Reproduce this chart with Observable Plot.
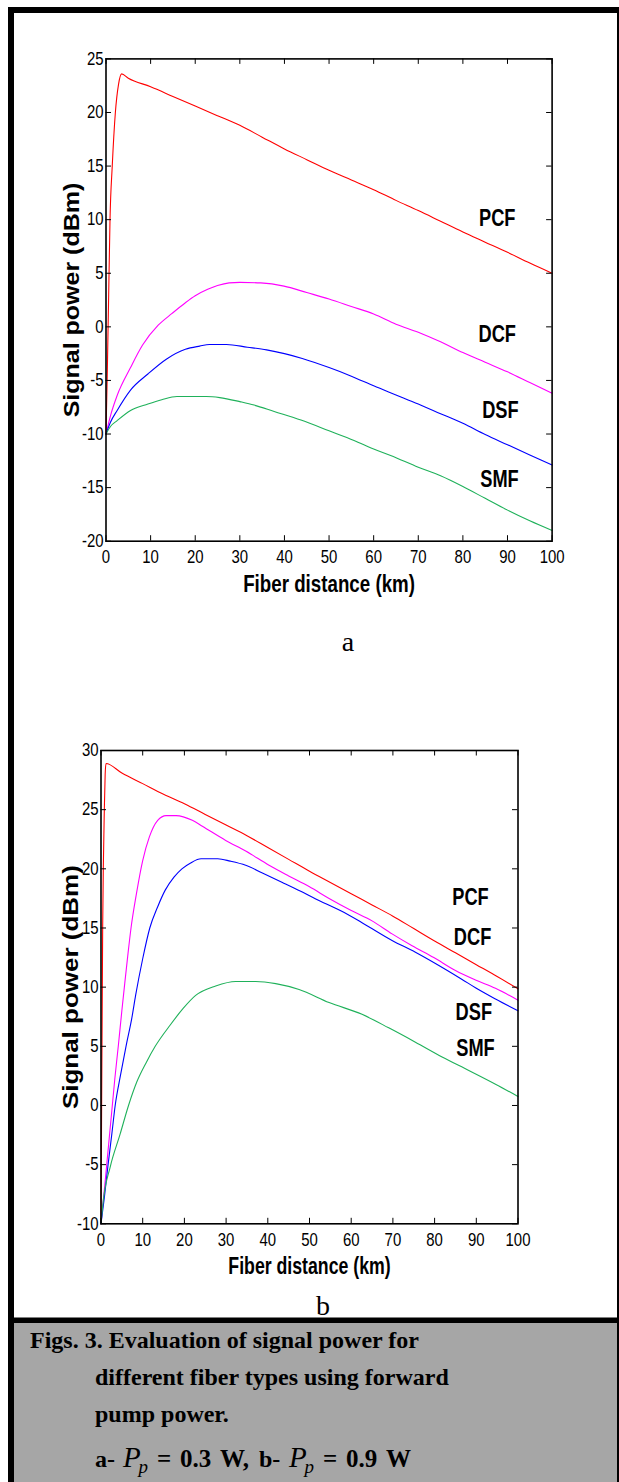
<!DOCTYPE html>
<html><head><meta charset="utf-8">
<script src="https://cdn.jsdelivr.net/npm/d3@7"></script>
<script src="https://cdn.jsdelivr.net/npm/@observablehq/plot@0.6"></script>
<style>
html,body{margin:0;padding:0;background:#fff;}
body{width:619px;height:1482px;overflow:hidden;position:relative;}
.chart{position:absolute;left:0;}
#overlay{position:absolute;left:0;top:0;pointer-events:none;}
</style></head><body>
<div id="chartA" class="chart" style="top:0px"></div>
<div id="chartB" class="chart" style="top:690px"></div>
<svg id="overlay" width="619" height="1482"></svg>
<script>
// ---------- data ----------
const fiberTypes = ["PCF", "DCF", "DSF", "SMF"];
const fiberColors = ["#ff0000", "#ff00ff", "#0000ff", "#1fb15a"];
const xTicks = [0, 10, 20, 30, 40, 50, 60, 70, 80, 90, 100];
const yTicksA = [-20, -15, -10, -5, 0, 5, 10, 15, 20, 25];
const yTicksB = [-10, -5, 0, 5, 10, 15, 20, 25, 30];
const xTitle = "Fiber distance (km)";
const yTitle = "Signal power (dBm)";

// Chart a (Pp = 0.3 W)
const aPcfKm  = [0, 0.3, 0.6, 0.9, 1.4, 2.1, 2.8, 3.5, 5, 10, 15, 20, 25, 30, 35, 40, 45, 50, 55, 60, 65, 70, 75, 80, 85, 90, 95, 100];
const aPcfDbm = [-10, -4, 3, 10, 15, 20, 22.6, 23.6, 23.2, 22.4, 21.5, 20.6, 19.7, 18.8, 17.7, 16.6, 15.6, 14.6, 13.7, 12.8, 11.8, 10.85, 9.85, 8.85, 7.9, 6.95, 5.95, 5.0];
const aDcfKm  = [0, 1, 2.5, 5.5, 8.2, 11.7, 14.8, 17.8, 20, 22.8, 25, 27.6, 30, 34.7, 39.9, 45, 50, 55, 60, 65, 70, 75, 80, 85, 90, 95, 100];
const aDcfDbm = [-10, -8.3, -6.4, -3.8, -1.7, 0.15, 1.25, 2.25, 2.9, 3.5, 3.85, 4.1, 4.15, 4.1, 3.8, 3.2, 2.6, 1.9, 1.2, 0.25, -0.5, -1.4, -2.4, -3.3, -4.2, -5.2, -6.2];
const aDsfKm  = [0, 1, 2.5, 5.5, 9.4, 13.6, 17.8, 21, 23.2, 27, 31.7, 36, 40, 44, 50, 55, 60, 65, 70, 75, 80, 85, 90, 95, 100];
const aDsfDbm = [-10, -8.9, -7.8, -5.9, -4.4, -3.0, -2.1, -1.8, -1.65, -1.65, -1.9, -2.15, -2.5, -2.95, -3.8, -4.6, -5.5, -6.35, -7.2, -8.1, -9.0, -10.05, -11.0, -11.95, -12.9];
const aSmfKm  = [0, 1, 2.5, 5.5, 9.4, 12.5, 15.9, 22.5, 25.5, 30.2, 33.2, 37.7, 43.7, 50, 55.6, 60, 63.8, 70, 75, 80, 85, 90, 95, 100];
const aSmfDbm = [-10, -9.3, -8.75, -7.8, -7.2, -6.8, -6.5, -6.5, -6.6, -7.0, -7.3, -7.9, -8.7, -9.7, -10.6, -11.4, -12.0, -13.1, -13.9, -14.9, -16.0, -17.1, -18.1, -19.0];
const aLabelKm  = [87.7, 87.7, 88.4, 88.2];
const aLabelDbm = [10.1, -0.7, -7.8, -14.2];

// Chart b (Pp = 0.9 W)
const bPcfKm  = [0, 0.15, 0.4, 0.55, 0.8, 1.0, 1.2, 5, 10, 15, 20, 25, 30, 35, 40, 45, 50, 55, 60, 65, 70, 75, 80, 85, 90, 95, 100];
const bPcfDbm = [-10, 0, 15, 20, 25, 28, 28.9, 28.1, 27.2, 26.3, 25.5, 24.6, 23.7, 22.8, 21.8, 20.8, 19.8, 18.85, 17.9, 16.95, 16.0, 14.95, 13.9, 12.9, 11.9, 10.9, 9.86];
const bDcfKm  = [0, 0.5, 1, 1.8, 2.5, 3.3, 4.2, 5, 5.6, 6.4, 7.2, 8.5, 10, 11.6, 13.6, 15.6, 18, 21.9, 24.3, 29.9, 34.7, 40.3, 45, 49.9, 54.7, 59.9, 65, 69.8, 74.6, 79.8, 85, 89.8, 94.6, 100];
const bDcfDbm = [-10, -8.2, -6.4, -3.4, -0.8, 2.2, 5.2, 8, 10, 12.6, 15, 17.9, 20.7, 22.7, 24.1, 24.5, 24.5, 24.1, 23.6, 22.4, 21.5, 20.3, 19.4, 18.5, 17.5, 16.5, 15.6, 14.5, 13.5, 12.5, 11.4, 10.6, 9.9, 8.9];
const bDsfKm  = [0, 0.8, 1.7, 2.6, 3.4, 4.7, 6, 7.4, 8.3, 10, 11.7, 13.6, 15.4, 17.5, 19.4, 21.5, 24, 28, 31, 34.7, 38.7, 43.5, 47.9, 51.5, 57.5, 62.6, 69.8, 75.4, 80.2, 86.6, 89.8, 94.6, 100];
const bDsfDbm = [-10, -7.8, -5.0, -2.4, 0, 2.6, 5, 7.4, 9.3, 12.4, 15, 16.8, 18.2, 19.3, 20, 20.5, 20.85, 20.85, 20.65, 20.3, 19.65, 18.85, 18.1, 17.45, 16.45, 15.45, 13.95, 12.95, 12.0, 10.65, 9.95, 9.0, 8.0];
const bSmfKm  = [0, 0.56, 2.2, 4.6, 6.6, 8.6, 10.8, 13, 16.6, 19.7, 22.7, 27.5, 32.3, 37.1, 41.9, 47.5, 54.7, 62.6, 69, 75.4, 81.8, 88.2, 94.6, 100];
const bSmfDbm = [-10, -8, -5.2, -2.4, 0, 2.0, 3.6, 5, 6.8, 8.2, 9.3, 10.1, 10.48, 10.48, 10.3, 9.8, 8.7, 7.7, 6.56, 5.35, 4.1, 2.96, 1.8, 0.76];
const bLabelKm  = [88.6, 89.1, 89.4, 89.8];
const bLabelDbm = [17.6, 14.2, 7.9, 4.8];

const panelTags = ["a", "b"];
const captionLines = ["Figs. 3. Evaluation of signal power for", "different fiber types using forward", "pump power."];
const pumpPowers = ["0.3", "0.9"];

// ---------- helpers ----------
function rows(fiber, km, dbm) { return km.map((k, i) => ({fiber, km: k, dbm: dbm[i]})); }
function labelRows(km, dbm) { return fiberTypes.map((f, i) => ({fiber: f, km: km[i], dbm: dbm[i]})); }

// condense texts (the reference glyphs are horizontally narrow)
function squash(svg, o) {
  svg.querySelectorAll("text").forEach(t => {
    const s = (t.textContent || "").trim();
    let r = null;
    if (fiberTypes.includes(s)) r = [0.76, 1];
    else if (s === xTitle) r = [o.xTitleSquash, 1];
    else if (s === yTitle) r = [1, 0.85];
    else if (/^-?\d+$/.test(s)) r = [0.83, 1];
    if (!r) return;
    const tr = t.getAttribute("transform");
    if (tr) t.setAttribute("transform", `${tr} scale(${r[0]},${r[1]})`);
  });
}

function makeChart(o) {
  const W = 619;
  const innerW = o.plotRight - o.plotLeft, innerH = o.plotBottom - o.plotTop;
  const tk = 5.5;
  const svg = Plot.plot({
    width: W, height: o.svgHeight,
    marginLeft: o.plotLeft, marginRight: W - o.plotRight,
    marginTop: o.plotTop - o.top, marginBottom: o.top + o.svgHeight - o.plotBottom,
    x: {domain: [0, 100]},
    y: {domain: o.yDomain},
    color: {domain: fiberTypes, range: fiberColors},
    style: {background: "transparent", color: "black", fontFamily: "'Liberation Sans', Arial, sans-serif", overflow: "visible"},
    marks: [
      Plot.line(o.data, {x: "km", y: "dbm", stroke: "fiber", z: "fiber", strokeWidth: 1.1, curve: "monotone-x"}),
      Plot.tickY(o.yTicks, {y: d => d, insetRight: innerW - tk, stroke: "black"}),
      Plot.tickY(o.yTicks, {y: d => d, insetLeft: innerW - tk, stroke: "black"}),
      Plot.tickX(xTicks, {x: d => d, insetTop: innerH - tk, stroke: "black"}),
      Plot.tickX(xTicks, {x: d => d, insetBottom: innerH - tk, stroke: "black"}),
      Plot.frame({stroke: "black", strokeWidth: 1.6}),
      Plot.axisX({ticks: xTicks, tickSize: 0, tickPadding: 9.5, fontSize: 18, label: null, tickFormat: d => String(d)}),
      Plot.axisY({ticks: o.yTicks, tickSize: 0, tickPadding: 2.5, fontSize: 18, label: null, tickFormat: d => String(d)}),
      Plot.text(o.labels, {x: "km", y: "dbm", text: "fiber", fontSize: 24, fontWeight: "bold", fill: "black"}),
      Plot.text([xTitle], {text: d => d, frameAnchor: "bottom", textAnchor: "middle", lineAnchor: "middle", dy: o.xTitleDy, fontSize: 23, fontWeight: "bold", fill: "black"}),
      Plot.text([yTitle], {text: d => d, frameAnchor: "left", textAnchor: "middle", lineAnchor: "middle", rotate: -90, dx: o.yTitleDx, fontSize: o.yTitleSize, fontWeight: "bold", fill: "black"})
    ]
  });
  squash(svg, o);
  return svg;
}

const dataA = [].concat(rows("PCF", aPcfKm, aPcfDbm), rows("DCF", aDcfKm, aDcfDbm), rows("DSF", aDsfKm, aDsfDbm), rows("SMF", aSmfKm, aSmfDbm));
const dataB = [].concat(rows("PCF", bPcfKm, bPcfDbm), rows("DCF", bDcfKm, bDcfDbm), rows("DSF", bDsfKm, bDsfDbm), rows("SMF", bSmfKm, bSmfDbm));

document.getElementById("chartA").append(makeChart({
  data: dataA, labels: labelRows(aLabelKm, aLabelDbm), yDomain: [-20, 25], yTicks: yTicksA,
  top: 0, svgHeight: 610, plotLeft: 105.5, plotRight: 551.6, plotTop: 58.4, plotBottom: 540.7,
  xTitleDy: 43, xTitleSquash: 0.815, yTitleDx: -34, yTitleSize: 25
}));
document.getElementById("chartB").append(makeChart({
  data: dataB, labels: labelRows(bLabelKm, bLabelDbm), yDomain: [-10, 30], yTicks: yTicksB,
  top: 690, svgHeight: 610, plotLeft: 100.5, plotRight: 517.5, plotTop: 750, plotBottom: 1223.3,
  xTitleDy: 43, xTitleSquash: 0.77, yTitleDx: -30.5, yTitleSize: 26
}));

// ---------- page frame, panel tags and caption ----------
const ov = d3.select("#overlay");
ov.append("rect").attr("x", 8).attr("y", 7).attr("width", 6).attr("height", 1480).attr("fill", "black");
ov.append("rect").attr("x", 8).attr("y", 7).attr("width", 611).attr("height", 6).attr("fill", "black");
ov.append("rect").attr("x", 617).attr("y", 7).attr("width", 2).attr("height", 1480).attr("fill", "black");
ov.append("rect").attr("x", 8).attr("y", 1317.5).attr("width", 611).attr("height", 5.5).attr("fill", "black");
ov.append("rect").attr("x", 14).attr("y", 1323).attr("width", 603).attr("height", 160).attr("fill", "#a6a6a6");

const serif = "'Liberation Serif', 'Times New Roman', serif";
ov.append("text").attr("x", 348).attr("y", 650.5).attr("text-anchor", "middle")
  .attr("font-family", serif).attr("font-size", 28).text(panelTags[0]);
ov.append("text").attr("x", 323).attr("y", 1314.5).attr("text-anchor", "middle")
  .attr("font-family", serif).attr("font-size", 28).text(panelTags[1]);

const capX = [30, 95, 95];
const capY = [1348, 1385, 1422];
captionLines.forEach((s, i) => {
  ov.append("text").attr("x", capX[i]).attr("y", capY[i])
    .attr("font-family", serif).attr("font-weight", "bold").attr("font-size", 24).text(s);
});
// line 4 : a- Pp = 0.3 W, b- Pp = 0.9 W
const l4y = 1467;
function tok(x, txt, opts = {}) {
  ov.append("text").attr("x", x).attr("y", l4y + (opts.dy || 0))
    .attr("font-family", serif)
    .attr("font-weight", opts.italic ? "normal" : "bold")
    .attr("font-style", opts.italic ? "italic" : "normal")
    .attr("font-size", opts.size || 24)
    .text(txt);
}
tok(95, "a-");
tok(123, "P", {italic: true, size: 29});
tok(138.5, "p", {italic: true, size: 19, dy: 6});
tok(157, "=", {size: 25});
tok(180, pumpPowers[0], {size: 25});
tok(220, "W,", {size: 25});
tok(259, "b-");
tok(289, "P", {italic: true, size: 29});
tok(304.5, "p", {italic: true, size: 19, dy: 6});
tok(323, "=", {size: 25});
tok(346, pumpPowers[1], {size: 25});
tok(386, "W", {size: 25});
</script></body></html>
